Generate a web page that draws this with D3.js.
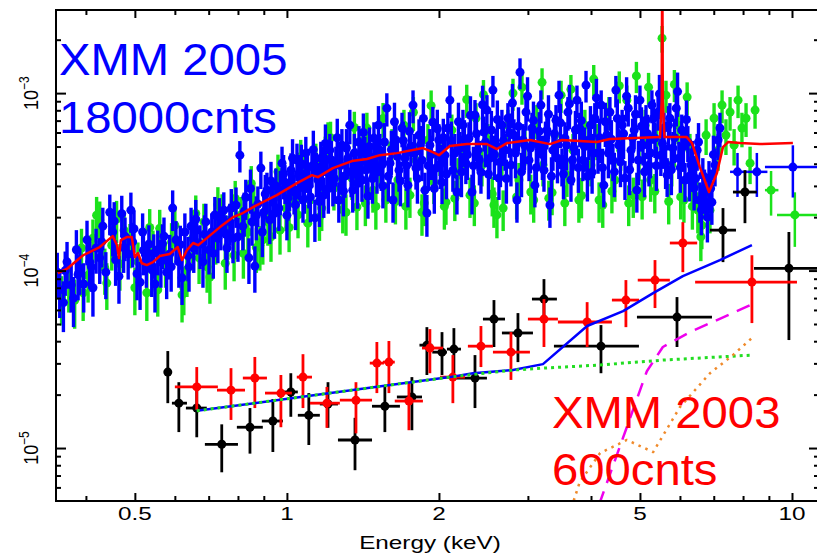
<!DOCTYPE html>
<html>
<head>
<meta charset="utf-8">
<script src="https://cdn.jsdelivr.net/npm/d3@7"></script>
<style>
  body { margin: 0; background: #fff; }
</style>
</head>
<body>
<script>
// ---- data ----
// 2005 spectra: [energy keV, flux (1e-4), error (1e-4)]
var blue2005 = [
  [0.351,0.98,0.28],[0.355,0.78,0.24],[0.361,0.66,0.21],[0.367,1.12,0.33],[0.374,0.83,0.25],
  [0.378,0.70,0.22],[0.383,1.31,0.38],[0.389,1.03,0.30],[0.396,0.84,0.26],[0.402,1.49,0.42],
  [0.407,1.12,0.33],[0.413,0.80,0.25],[0.419,1.34,0.38],[0.426,1.18,0.34],[0.432,1.78,0.48],
  [0.438,0.98,0.29],[0.446,2.13,0.55],[0.452,1.65,0.45],[0.458,1.15,0.33],[0.465,0.93,0.28],
  [0.471,2.09,0.55],[0.478,1.56,0.43],[0.485,1.24,0.35],[0.491,2.19,0.56],[0.498,1.72,0.46],
  [0.505,0.96,0.28],[0.512,0.86,0.26],[0.518,1.65,0.45],[0.527,1.12,0.32],[0.533,1.41,0.39],
  [0.540,1.01,0.30],[0.548,0.84,0.26],[0.555,1.31,0.37],[0.563,1.12,0.32],[0.571,1.56,0.43],
  [0.578,0.98,0.29],[0.586,1.24,0.35],[0.594,2.25,0.58],[0.603,1.49,0.41],[0.611,1.12,0.32],
  [0.620,0.91,0.27],[0.628,1.65,0.45],[0.637,1.21,0.34],[0.646,1.78,0.48],[0.654,1.34,0.37],
  [0.663,1.69,0.46],[0.673,1.41,0.39],[0.682,1.12,0.32],[0.691,1.88,0.50],[0.701,1.31,0.36],
  [0.710,1.65,0.45],[0.720,2.06,0.54],[0.730,1.52,0.42],[0.740,1.78,0.48],[0.750,2.19,0.57],
  [0.761,1.34,0.37],[0.771,1.88,0.50],[0.782,1.52,0.42],[0.793,2.34,0.60],[0.807,4.47,0.90],
  [0.818,1.78,0.48],[0.829,2.59,0.66],[0.841,1.18,0.34],[0.853,1.88,0.50],[0.864,1.06,0.31],
  [0.876,2.37,0.61],[0.888,3.78,0.90],[0.900,2.13,0.56],[0.913,2.84,0.72],[0.925,1.93,0.52],
  [0.938,2.50,0.64],[0.951,3.00,0.76],[0.964,2.25,0.58],[0.978,4.03,0.96],[0.991,3.15,0.78],
  [1.005,2.56,0.65],[1.019,3.68,0.90],[1.033,2.77,0.70],[1.047,4.19,1.00],[1.061,3.32,0.82],
  [1.076,2.50,0.64],[1.090,4.59,1.08],[1.105,3.00,0.76],[1.121,3.88,0.94],[1.136,1.98,0.53],
  [1.152,3.24,0.80],[1.167,4.30,1.02],[1.183,2.66,0.68],[1.200,3.59,0.88],[1.216,4.77,1.12],
  [1.233,3.07,0.77],[1.250,4.03,0.96],[1.267,2.50,0.64],[1.285,5.09,1.18],[1.303,3.41,0.84],
  [1.320,4.30,1.02],[1.332,6.60,1.45],[1.350,2.84,0.72],[1.370,3.93,0.95],[1.389,5.30,1.22],
  [1.408,3.24,0.80],[1.427,4.59,1.08],[1.447,2.63,0.67],[1.467,4.19,1.00],[1.487,5.58,1.27],
  [1.508,3.59,0.88],[1.528,4.77,1.12],[1.549,3.00,0.76],[1.577,8.23,1.75],[1.600,4.03,0.96],
  [1.622,2.50,0.64],[1.644,5.44,1.25],[1.667,3.68,0.90],[1.690,6.35,1.40],[1.713,4.30,1.02],
  [1.736,3.03,0.76],[1.760,5.02,1.16],[1.777,8.56,1.80],[1.801,3.78,0.92],[1.826,5.80,1.32],
  [1.851,4.19,1.00],[1.876,2.84,0.72],[1.893,2.11,0.56],[1.919,5.09,1.18],[1.945,6.86,1.50],
  [1.972,3.78,0.92],[1.999,5.44,1.25],[2.028,3.15,0.78],[2.055,4.47,1.06],[2.083,6.35,1.40],
  [2.102,9.13,1.90],[2.131,3.68,0.90],[2.171,2.77,0.70],[2.201,4.90,1.14],[2.231,6.60,1.45],
  [2.261,4.03,0.96],[2.293,5.58,1.27],[2.325,2.77,0.70],[2.357,7.52,1.62],[2.389,4.77,1.12],
  [2.422,3.59,0.88],[2.456,6.03,1.35],[2.489,8.02,1.72],[2.523,4.30,1.02],[2.558,10.4,2.10],
  [2.593,5.09,1.18],[2.629,3.32,0.82],[2.665,6.60,1.45],[2.703,4.77,1.12],[2.739,7.22,1.56],
  [2.777,3.93,0.95],[2.815,5.80,1.32],[2.854,2.50,0.64],[2.894,13.1,2.60],[2.934,5.44,1.25],
  [2.974,7.82,1.68],[3.015,4.19,1.00],[3.056,6.35,1.40],[3.097,3.03,0.76],[3.140,5.09,1.18],
  [3.183,8.56,1.80],[3.228,3.68,0.90],[3.272,6.19,1.38],[3.317,2.34,0.60],[3.363,4.77,1.12],
  [3.410,7.04,1.52],[3.457,9.74,2.00],[3.504,3.93,0.95],[3.552,5.58,1.27],[3.601,7.82,1.68],
  [3.651,3.24,0.80],[3.701,4.90,1.14],[3.752,9.13,1.90],[3.800,6.35,1.40],[3.855,4.19,1.00],
  [3.910,11.1,2.25],[3.960,5.44,1.25],[4.020,3.59,0.88],[4.070,7.22,1.56],[4.130,4.59,1.08],
  [4.190,8.56,1.80],[4.240,3.03,0.76],[4.300,5.80,1.32],[4.360,7.82,1.68],[4.420,4.19,1.00],
  [4.480,10.4,2.10],[4.540,5.09,1.18],[4.610,6.60,1.45],[4.670,3.32,0.82],[4.740,8.23,1.75],
  [4.800,4.77,1.12],[4.870,6.19,1.38],[4.930,2.84,0.72],[5.000,9.13,1.90],[5.070,5.09,1.18],
  [5.140,7.04,1.52],[5.210,3.93,0.95],[5.280,8.56,1.80],[5.355,5.58,1.27],[5.430,7.82,1.68],
  [5.500,4.47,1.06],[5.580,6.35,1.40],[5.660,3.45,0.85],[5.730,7.22,1.56],[5.810,4.90,1.14],
  [5.900,8.23,1.75],[5.970,4.30,1.02],[6.050,6.19,1.38],[6.140,3.24,0.80],[6.220,5.30,1.22],
  [6.310,3.93,0.95],[6.400,2.92,0.74],[6.490,4.77,1.12],[6.570,2.50,0.64],[6.660,3.45,0.85],
  [6.760,2.77,0.70],[6.850,3.32,0.82],[6.940,2.43,0.62],[7.040,3.93,0.95],[7.140,5.44,1.25],
  [7.200,6.35,1.40],
  [0.364,1.00,0.28],[0.386,0.95,0.27],[0.410,1.05,0.29],[0.430,1.45,0.41],[0.455,1.90,0.53],
  [0.475,1.35,0.38],[0.495,1.45,0.41],[0.520,1.30,0.36],[0.545,1.25,0.35],[0.567,1.42,0.40],
  [0.590,1.05,0.29],[0.615,1.40,0.39],[0.640,1.05,0.29],[0.660,1.95,0.55],[0.687,1.60,0.45],
  [0.715,1.25,0.35],[0.735,2.00,0.56],[0.757,1.60,0.45],[0.776,2.25,0.63],[0.800,1.55,0.43],
  [0.823,2.15,0.60],[0.847,2.90,0.81],[0.870,2.05,0.57],[0.894,1.65,0.46],[0.906,2.70,0.76],
  [0.930,3.20,0.90],[0.945,2.10,0.59],[0.970,2.85,0.80],[0.985,3.50,0.98],[1.000,2.05,0.57],
  [1.012,3.00,0.84],[1.026,4.30,1.20],[1.040,2.35,0.66],[1.054,3.50,0.98],[1.068,4.00,1.12],
  [1.083,2.90,0.81],[1.098,3.80,1.06],[1.113,2.60,0.73],[1.128,4.80,1.34],[1.144,3.60,1.01],
  [1.160,2.45,0.69],[1.175,3.90,1.09],[1.192,5.20,1.46],[1.208,2.90,0.81],[1.225,4.20,1.18],
  [1.242,3.30,0.92],[1.258,5.60,1.57],[1.276,3.90,1.09],[1.294,2.80,0.78],[1.312,4.90,1.37],
  [1.340,3.60,1.01],[1.360,4.60,1.29],[1.380,3.10,0.87],[1.398,4.10,1.15],[1.417,6.00,1.68],
  [1.437,3.70,1.04],[1.457,5.00,1.40],[1.477,3.30,0.92],[1.497,4.40,1.23],[1.518,6.60,1.85],
  [1.538,3.90,1.09],[1.560,5.30,1.48],[1.588,3.40,0.95],[1.610,4.80,1.34],[1.633,6.90,1.93],
  [1.655,4.40,1.23],[1.678,3.20,0.90],[1.700,5.40,1.51],[1.725,3.90,1.09],[1.748,6.10,1.71],
  [1.790,4.60,1.29],[1.813,3.30,0.92],[1.838,5.10,1.43],[1.863,7.20,2.02],[1.905,3.90,1.09],
  [1.932,4.50,1.26],[1.958,2.90,0.81],[1.985,6.30,1.76],[2.013,4.00,1.12],[2.040,5.60,1.57],
  [2.070,3.50,0.98],[2.116,5.40,1.51],[2.150,4.60,1.29],[2.186,6.90,1.93],[2.216,3.60,1.01],
  [2.246,5.50,1.54],[2.277,4.50,1.26],[2.309,7.50,2.10],[2.340,3.90,1.09],[2.373,5.90,1.65],
  [2.405,4.20,1.18],[2.440,8.60,2.41],[2.472,5.30,1.48],[2.506,3.50,0.98],[2.540,6.20,1.74],
  [2.575,4.50,1.26],[2.610,7.10,1.99],[2.647,4.10,1.15],[2.684,5.40,1.51],[2.720,3.30,0.92],
  [2.758,6.00,1.68],[2.796,8.80,2.46],[2.835,4.60,1.29],[2.874,6.50,1.82],[2.914,3.60,1.01],
  [2.954,5.10,1.43],[2.995,9.60,2.69],[3.035,4.90,1.37],[3.077,7.00,1.96],[3.118,3.80,1.06],
  [3.160,6.10,1.71],[3.205,4.50,1.26],[3.250,5.40,1.51],[3.295,7.60,2.13],[3.340,3.40,0.95],
  [3.386,5.90,1.65],[3.433,4.30,1.20],[3.480,6.80,1.90],[3.528,3.50,0.98],[3.576,5.10,1.43],
  [3.626,8.70,2.44],[3.676,4.20,1.18],[3.726,6.20,1.74],[3.776,3.80,1.06],[3.827,7.00,1.96],
  [3.882,5.00,1.40],[3.935,3.40,0.95],[3.990,6.60,1.85],[4.045,4.60,1.29],[4.100,9.40,2.63],
  [4.160,5.60,1.57],[4.215,3.80,1.06],[4.270,6.90,1.93],[4.330,4.60,1.29],[4.390,5.50,1.54],
  [4.450,3.60,1.01],[4.510,7.20,2.02],[4.575,4.10,1.15],[4.640,5.90,1.65],[4.705,9.60,2.69],
  [4.770,3.70,1.04],[4.835,5.60,1.57],[4.900,7.60,2.13],[4.965,4.20,1.18],[5.035,6.50,1.82],
  [5.105,3.60,1.01],[5.175,5.90,1.65],[5.245,4.60,1.29],[5.318,7.20,2.02],[5.390,3.90,1.09],
  [5.465,9.90,2.77],[5.540,5.20,1.46],[5.620,4.00,1.12],[5.695,6.60,1.85],[5.770,3.70,1.04],
  [5.855,5.60,1.57],[5.935,10.2,2.86],[6.010,3.80,1.06],[6.095,5.00,1.40],[6.180,7.10,1.99],
  [6.265,3.40,0.95],[6.355,4.20,1.18],[6.445,3.30,0.92],[6.530,5.30,1.48],[6.615,2.20,0.62],
  [6.710,2.90,0.81],[6.800,2.00,0.56],[6.900,2.90,0.81],[6.990,4.50,1.26]
];
// binned high-energy points: [E, Elo, Ehi, flux, err] (1e-4)
var blueBins = [[7.80,7.54,8.15,3.60,1.00],[8.52,8.15,8.94,3.60,1.00],[10.04,8.84,11.3,3.83,1.25]];

var green2005 = [
  [0.358,0.71,0.22],[0.370,0.83,0.25],[0.380,0.68,0.21],[0.392,1.34,0.38],[0.404,0.94,0.28],
  [0.413,1.52,0.42],[0.426,1.93,0.52],[0.436,1.03,0.30],[0.450,1.39,0.39],[0.467,1.09,0.32],
  [0.476,1.69,0.46],[0.489,1.43,0.40],[0.507,1.12,0.32],[0.528,0.75,0.23],[0.543,1.31,0.37],
  [0.560,1.73,0.47],[0.575,1.12,0.32],[0.591,1.45,0.40],[0.620,0.73,0.22],[0.634,1.01,0.30],
  [0.651,1.52,0.42],[0.670,1.18,0.34],[0.685,1.88,0.50],[0.704,0.92,0.27],[0.723,1.49,0.41],
  [0.744,2.13,0.56],[0.764,1.59,0.44],[0.786,1.22,0.35],[0.811,2.06,0.54],[0.837,1.65,0.45],
  [0.860,2.40,0.62],[0.884,1.39,0.39],[0.896,1.49,0.41],[0.917,1.88,0.50],[0.942,2.56,0.65],
  [0.969,1.69,0.46],[0.996,2.25,0.58],[1.023,3.03,0.76],[1.052,2.06,0.54],[1.080,3.59,0.88],
  [1.111,2.50,0.64],[1.141,4.19,1.00],[1.172,2.25,0.58],[1.206,5.58,1.27],[1.239,2.92,0.74],
  [1.273,3.93,0.95],[1.309,2.13,0.56],[1.345,3.32,0.82],[1.376,2.28,0.59],[1.408,4.59,1.08],
  [1.440,6.35,1.40],[1.480,2.84,0.72],[1.528,3.93,0.95],[1.570,2.50,0.64],[1.614,5.09,1.18],
  [1.659,3.24,0.80],[1.705,6.60,1.45],[1.752,2.66,0.68],[1.801,4.19,1.00],[1.851,2.13,0.56],
  [1.902,5.44,1.25],[1.954,3.15,0.78],[2.009,4.47,1.06],[2.065,2.43,0.62],[2.121,6.19,1.38],
  [2.181,3.45,0.85],[2.241,4.77,1.12],[2.304,2.66,0.68],[2.368,7.22,1.56],[2.433,3.93,0.95],
  [2.500,5.44,1.25],[2.570,2.34,0.60],[2.605,2.06,0.54],[2.665,4.47,1.06],[2.739,6.60,1.45],
  [2.803,10.0,2.05],[2.880,3.24,0.80],[2.960,5.09,1.18],[3.040,2.77,0.70],[3.125,7.04,1.52],
  [3.213,3.93,0.95],[3.300,2.56,0.65],[3.394,5.80,1.32],[3.490,9.74,2.00],[3.585,3.45,0.85],
  [3.685,4.77,1.12],[3.785,2.50,0.64],[3.890,6.60,1.45],[4.000,3.93,0.95],[4.110,5.44,1.25],
  [4.220,2.34,0.60],[4.340,7.82,1.68],[4.460,3.24,0.80],[4.580,4.77,1.12],[4.710,9.13,1.90],
  [4.850,2.66,0.68],[4.980,4.19,1.00],[5.120,6.60,1.45],[5.250,3.24,0.80],[5.400,5.44,1.25],
  [5.530,20.4,3.50],[5.630,9.74,2.00],[5.780,3.93,0.95],[5.950,6.60,1.45],[6.110,2.50,0.64],
  [6.280,4.77,1.12],[6.430,3.03,0.76],[6.510,2.19,0.57],[6.630,1.80,0.48],[6.760,5.80,1.32],
  [6.880,2.19,0.57],[7.010,7.22,1.56],[7.140,4.77,1.12],[7.270,8.56,1.80],[7.400,5.80,1.32],
  [7.540,7.82,1.68],[7.680,5.09,1.18],[7.820,9.13,1.90],[7.960,6.35,1.40],[8.110,7.22,1.56],
  [8.260,4.03,0.96],[8.450,8.02,1.72],
  [0.395,0.75,0.23],[0.420,2.05,0.55],[0.440,0.85,0.25],[0.460,1.95,0.52],[0.500,0.80,0.24],
  [0.535,1.75,0.47],[0.555,0.78,0.23],[0.600,1.80,0.48],[0.625,0.80,0.24],[0.660,2.10,0.55],
  [0.695,1.05,0.30],[0.730,2.35,0.60],[0.755,1.10,0.32],[0.790,2.55,0.65],[0.820,1.25,0.35],
  [0.850,3.10,0.78],[0.870,1.35,0.38],[0.930,1.55,0.43],[0.960,3.60,0.90],[1.010,1.75,0.48],
  [1.065,4.40,1.05],[1.100,1.85,0.50],[1.160,2.00,0.53],[1.220,5.60,1.30],[1.290,2.20,0.58],
  [1.360,6.40,1.45],[1.430,2.40,0.62],[1.500,2.30,0.60],[1.550,7.20,1.60],[1.640,2.45,0.63],
  [1.720,2.30,0.60],[1.780,7.80,1.70],[1.870,2.40,0.62],[1.930,8.50,1.85],[2.050,2.30,0.60],
  [2.150,2.55,0.65],[2.270,9.20,1.95],[2.350,2.40,0.62],[2.450,9.80,2.05],[2.550,2.70,0.68],
  [2.680,2.25,0.58],[2.850,2.60,0.66],[2.920,10.8,2.20],[3.080,2.50,0.64],[3.200,11.5,2.30],
  [3.350,2.75,0.70],[3.550,2.40,0.62],[3.650,10.5,2.15],[3.830,2.65,0.68],[4.050,12.0,2.40],
  [4.150,2.50,0.64],[4.400,2.80,0.70],[4.550,11.0,2.25],[4.750,2.40,0.62],[4.920,12.5,2.50],
  [5.050,2.60,0.66],[5.200,10.8,2.20],[5.350,2.80,0.70],[5.700,2.45,0.63],[5.850,11.2,2.30],
  [6.020,2.60,0.66],[6.200,9.50,2.00],[6.350,2.30,0.60],[6.600,1.55,0.42],[6.680,2.60,0.66]
];
var greenBins = [[9.09,8.84,9.40,2.84,0.80],[10.13,9.34,11.3,2.06,0.70]];

// 2005 model (red): [E, flux 1e-4]
var model2005 = [
  [0.352,0.968],[0.368,1.03],[0.395,1.22],[0.426,1.357],[0.452,1.564],[0.461,1.39],[0.465,1.176],
  [0.469,1.485],[0.482,1.544],[0.493,1.544],[0.500,1.19],[0.507,1.255],[0.516,1.10],[0.528,1.074],
  [0.543,1.116],[0.560,1.207],[0.586,1.239],[0.608,1.357],[0.620,1.146],[0.634,1.305],[0.652,1.43],
  [0.667,1.39],[0.694,1.524],[0.737,1.758],[0.782,2.00],[0.818,2.11],[0.872,2.34],[0.955,2.66],
  [1.047,3.11],[1.121,3.45],[1.152,3.36],[1.233,3.78],[1.345,4.14],[1.440,4.25],[1.528,4.47],
  [1.651,4.59],[1.859,4.90],[1.945,4.65],[2.000,4.47],[2.102,5.03],[2.272,5.16],[2.489,5.16],
  [2.605,4.84],[2.727,5.23],[3.028,5.44],[3.317,5.16],[3.504,5.44],[4.110,5.30],[4.360,5.51],
  [5.480,5.65],[5.520,9.0],[5.535,60],[5.550,9.0],[5.590,5.65],[6.190,5.65],[6.340,5.23],
  [6.570,3.83],[6.850,2.77],[7.100,3.54],[7.300,4.96],[7.470,5.30],[7.890,5.23],[8.640,5.16],
  [10.04,5.23]
];

// 2003 spectra: [E, Elo, Ehi, flux, fluxLo, fluxHi] (flux 1e-5)
var black2003 = [
  [0.581,0.575,0.588,2.68,1.79,3.52],[0.611,0.592,0.634,1.79,1.23,2.35],[0.663,0.631,0.694,1.68,1.15,2.12],
  [0.743,0.688,0.800,1.05,0.73,1.36],[0.845,0.796,0.896,1.31,0.93,1.68],[0.938,0.892,0.982,1.42,0.95,1.89],
  [1.018,0.982,1.051,2.07,1.50,2.64],[1.105,1.051,1.162,1.53,1.04,2.04],[1.206,1.162,1.262,1.77,1.30,2.35],
  [1.364,1.262,1.474,1.11,0.75,1.48],[1.563,1.474,1.674,1.72,1.23,2.21],[1.768,1.651,1.851,1.94,1.26,2.51],
  [1.893,1.830,1.940,3.80,2.58,4.80],[2.028,1.940,2.074,3.47,2.58,4.50],[2.141,2.074,2.211,3.61,2.64,4.74],
  [2.357,2.151,2.489,2.48,1.68,3.34],[2.570,2.444,2.703,5.33,3.71,6.82],[2.867,2.665,3.070,4.45,3.05,5.76],
  [3.228,3.056,3.424,6.91,5.40,8.95],[4.186,3.378,4.977,3.75,2.64,4.93],[5.920,4.932,6.943,5.47,3.71,7.09],
  [7.301,6.880,7.746,16.9,11.16,22.5],[8.070,7.640,8.520,27.7,18.5,36.8],[9.860,8.410,11.3,10.3,4.06,16.5]
];
var red2003 = [
  [0.663,0.600,0.730,2.21,1.64,2.86],[0.775,0.727,0.826,2.12,1.44,2.82],[0.864,0.818,0.913,2.48,1.68,3.26],
  [0.973,0.905,1.023,2.04,1.31,2.58],[1.076,1.046,1.121,2.51,1.68,3.38],[1.200,1.111,1.273,1.79,1.30,2.21],
  [1.370,1.273,1.474,1.86,1.21,2.35],[1.507,1.459,1.556,3.01,2.04,3.96],[1.592,1.549,1.635,3.05,2.04,4.01],
  [1.744,1.635,1.859,1.84,1.26,2.35],[1.919,1.851,2.037,3.66,2.64,4.68],[2.131,2.009,2.251,2.51,1.79,3.34],
  [2.422,2.282,2.558,3.75,2.86,4.87],[2.777,2.558,3.028,3.47,2.42,4.50],[3.228,3.000,3.440,5.33,3.71,6.91],
  [3.930,3.440,4.400,5.13,3.71,6.64],[4.690,4.400,4.980,6.82,4.80,8.84],[5.355,4.950,5.730,8.84,6.15,11.46],
  [6.080,5.730,6.490,14.3,9.80,18.75],[8.330,6.430,10.23,8.61,5.06,12.2]
];

// 2003 model components: [E, flux 1e-5]
var model2003Total = [[0.663,1.62],[2.102,2.51],[2.335,2.64],[2.803,2.75],[3.213,2.97],[3.930,4.87],
  [4.630,5.91],[5.310,7.46],[6.080,9.30],[7.200,11.46],[8.330,13.92]];
var model2003Power = [[0.663,1.62],[2.102,2.51],[2.803,2.75],[3.213,2.82],[4.110,2.93],[5.550,3.13],[8.330,3.34]];
var model2003Refl = [[4.15,0.48],[5.16,2.71],[5.55,3.71],[6.28,4.50],[8.33,6.45]];
var model2003Abs = [[3.62,0.42],[3.80,0.643],[4.17,0.937],[4.71,1.11],[5.31,0.949],[6.00,1.70],
  [6.88,2.64],[7.64,3.34],[8.33,4.17]];

var xMajor = [0.5, 1, 2, 5, 10];
var xMajorLabels = ["0.5", "1", "2", "5", "10"];
var xMinor = [0.4, 0.6, 0.7, 0.8, 0.9, 3, 4, 6, 7, 8, 9];
var yMajor = [1e-5, 1e-4, 1e-3];
var yMajorExp = ["\u22125", "\u22124", "\u22123"];
var yMinor = [6e-6,7e-6,8e-6,9e-6,2e-5,3e-5,4e-5,5e-5,6e-5,7e-5,8e-5,9e-5,
  2e-4,3e-4,4e-4,5e-4,6e-4,7e-4,8e-4,9e-4,2e-3];

var U4 = 1e-4, U5 = 1e-5;

// ---- chart ----
var width = 817, height = 553;
var pLeft = 56, pRight = 819, pTop = 10, pBottom = 501;
var font = "'Liberation Sans', Arial, sans-serif";

var x = d3.scaleLog().domain([0.349, 11.31]).range([pLeft, pRight]);
var y = d3.scaleLog().domain([5.03e-6, 2.94e-3]).range([pBottom, pTop]);

var svg = d3.select("body").append("svg")
    .attr("width", width)
    .attr("height", height)
    .style("display", "block");

svg.append("defs").append("clipPath").attr("id", "plot")
  .append("rect").attr("x", pLeft).attr("y", pTop)
  .attr("width", pRight - pLeft).attr("height", pBottom - pTop);

var plot = svg.append("g").attr("clip-path", "url(#plot)");

// points with vertical error bars
function drawSet(data, unit, color) {
  var g = plot.append("g");
  g.selectAll("line").data(data).join("line")
    .attr("x1", d => x(d[0])).attr("x2", d => x(d[0]))
    .attr("y1", d => y((d[1] - d[2]) * unit)).attr("y2", d => y((d[1] + d[2]) * unit))
    .attr("stroke", color).attr("stroke-width", 3.4);
  g.selectAll("circle").data(data).join("circle")
    .attr("cx", d => x(d[0])).attr("cy", d => y(d[1] * unit))
    .attr("r", 4.5).attr("fill", color);
}

// binned points with both error bars
function drawBins(data, unit, color) {
  var g = plot.append("g");
  g.selectAll("line.h").data(data).join("line").attr("class", "h")
    .attr("x1", d => x(d[1])).attr("x2", d => x(d[2]))
    .attr("y1", d => y(d[3] * unit)).attr("y2", d => y(d[3] * unit))
    .attr("stroke", color).attr("stroke-width", 2.5);
  g.selectAll("line.v").data(data).join("line").attr("class", "v")
    .attr("x1", d => x(d[0])).attr("x2", d => x(d[0]))
    .attr("y1", d => y((d[3] - d[4]) * unit)).attr("y2", d => y((d[3] + d[4]) * unit))
    .attr("stroke", color).attr("stroke-width", 2.5);
  g.selectAll("circle").data(data).join("circle")
    .attr("cx", d => x(d[0])).attr("cy", d => y(d[3] * unit))
    .attr("r", 4.5).attr("fill", color);
}

function drawCross(data, unit, color) {
  var g = plot.append("g");
  g.selectAll("line.h").data(data).join("line").attr("class", "h")
    .attr("x1", d => x(d[1])).attr("x2", d => x(d[2]))
    .attr("y1", d => y(d[3] * unit)).attr("y2", d => y(d[3] * unit))
    .attr("stroke", color).attr("stroke-width", 2.8);
  g.selectAll("line.v").data(data).join("line").attr("class", "v")
    .attr("x1", d => x(d[0])).attr("x2", d => x(d[0]))
    .attr("y1", d => y(d[4] * unit)).attr("y2", d => y(d[5] * unit))
    .attr("stroke", color).attr("stroke-width", 2.8);
  g.selectAll("circle").data(data).join("circle")
    .attr("cx", d => x(d[0])).attr("cy", d => y(d[3] * unit))
    .attr("r", 4.5).attr("fill", color);
}

function drawLine(data, unit, color, w, dash) {
  var line = d3.line().x(d => x(d[0])).y(d => y(d[1] * unit));
  plot.append("path").datum(data)
    .attr("d", line)
    .attr("fill", "none")
    .attr("stroke", color)
    .attr("stroke-width", w)
    .attr("stroke-dasharray", dash || null)
    .attr("stroke-linejoin", "round");
}

drawSet(green2005, U4, "#1be21b");
drawBins(greenBins, U4, "#1be21b");
drawSet(blue2005, U4, "#0000ff");
drawBins(blueBins, U4, "#0000ff");
drawLine(model2005, U4, "#ff0000", 2.5);

drawCross(black2003, U5, "#000000");
drawCross(red2003, U5, "#ff0000");

drawLine(model2003Total, U5, "#0000ff", 2.5);
drawLine(model2003Power, U5, "#22dd22", 3, "3,4");
drawLine(model2003Refl, U5, "#ee00ee", 2.5, "14,9");
drawLine(model2003Abs, U5, "#f08a2a", 2.5, "2.5,5");

// ---- axes ----
function tickAxis(axis, vals, size, tx, ty) {
  svg.append("g").attr("transform", "translate(" + tx + "," + ty + ")")
    .call(axis.tickValues(vals).tickSize(size).tickFormat(""))
    .call(g => g.select(".domain").remove())
    .call(g => g.selectAll("line").attr("stroke", "#000").attr("stroke-width", 2));
}
tickAxis(d3.axisBottom(x), xMinor, -5, 0, pBottom);
tickAxis(d3.axisBottom(x), xMajor, -8, 0, pBottom);
tickAxis(d3.axisTop(x), xMinor, -5, 0, pTop);
tickAxis(d3.axisTop(x), xMajor, -8, 0, pTop);
tickAxis(d3.axisLeft(y), yMinor, -5, pLeft, 0);
tickAxis(d3.axisLeft(y), yMajor, -10, pLeft, 0);
tickAxis(d3.axisRight(y), yMinor, -5, pRight, 0);
tickAxis(d3.axisRight(y), yMajor, -10, pRight, 0);

svg.append("rect")
  .attr("x", pLeft).attr("y", pTop)
  .attr("width", pRight - pLeft).attr("height", pBottom - pTop)
  .attr("fill", "none").attr("stroke", "#000").attr("stroke-width", 2);

// x tick labels
svg.selectAll("text.xl").data(xMajor).join("text").attr("class", "xl")
  .attr("transform", d => "translate(" + x(d) + ",520) scale(1.35,1)")
  .attr("text-anchor", "middle")
  .attr("font-family", font).attr("font-size", 18)
  .text((d, i) => xMajorLabels[i]);

// y tick labels (rotated, 10^n)
var yl = svg.selectAll("text.yl").data(yMajor.map((v, i) => ({ v: v, e: yMajorExp[i] })))
  .join("text").attr("class", "yl")
  .attr("transform", d => "translate(38," + y(d.v) + ") scale(1.15,1) rotate(-90)")
  .attr("text-anchor", "middle")
  .attr("font-family", font).attr("font-size", 18);
yl.append("tspan").text("10");
yl.append("tspan").attr("dy", -8).attr("font-size", 12).text(d => d.e);

svg.append("text")
  .attr("transform", "translate(430,549) scale(1.35,1)")
  .attr("text-anchor", "middle")
  .attr("font-family", font).attr("font-size", 18)
  .text("Energy (keV)");

// annotations
function note(txt, tx, ty, color) {
  svg.append("text")
    .attr("transform", "translate(" + tx + "," + ty + ") scale(1.05,1)")
    .attr("font-family", font).attr("font-size", 45)
    .attr("fill", color).text(txt);
}
note("XMM 2005", 59, 75, "#0000ff");
note("18000cnts", 59, 133, "#0000ff");
note("XMM 2003", 552, 428, "#ff0000");
note("600cnts", 552, 485, "#ff0000");
</script>
</body>
</html>
